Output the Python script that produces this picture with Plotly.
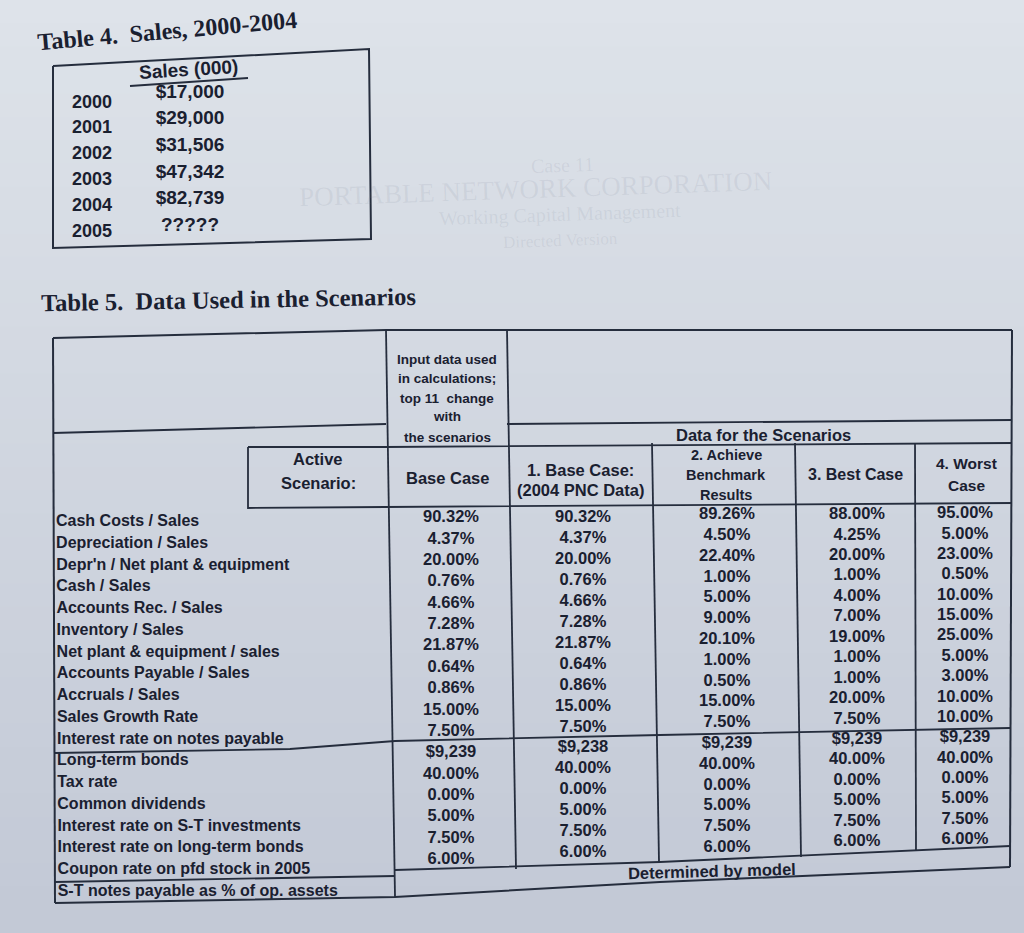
import plotly.graph_objects as go

# ---------------- data ----------------
t4_title = "Table 4.  Sales, 2000-2004"
t4_header = "Sales (000)"
t4_years = ["2000", "2001", "2002", "2003", "2004", "2005"]
t4_sales = ["$17,000", "$29,000", "$31,506", "$47,342", "$82,739", "?????"]

t5_title = "Table 5.  Data Used in the Scenarios"
input_note = ["Input data used", "in calculations;", "top 11  change", "with", "the scenarios"]
active_label = ["Active", "Scenario:"]
group_header = "Data for the Scenarios"
col_headers = [
    ["Base Case"],
    ["1. Base Case:", "(2004 PNC Data)"],
    ["2. Achieve", "Benchmark", "Results"],
    ["3. Best Case"],
    ["4. Worst", "Case"],
]
row_labels = [
    "Cash Costs / Sales",
    "Depreciation / Sales",
    "Depr'n / Net plant & equipment",
    "Cash / Sales",
    "Accounts Rec. / Sales",
    "Inventory / Sales",
    "Net plant & equipment / sales",
    "Accounts Payable / Sales",
    "Accruals / Sales",
    "Sales Growth Rate",
    "Interest rate on notes payable",
    "Long-term bonds",
    "Tax rate",
    "Common dividends",
    "Interest rate on S-T investments",
    "Interest rate on long-term bonds",
    "Coupon rate on pfd stock in 2005",
    "S-T notes payable as % of op. assets",
]
base_case = ["90.32%", "4.37%", "20.00%", "0.76%", "4.66%", "7.28%", "21.87%", "0.64%", "0.86%",
             "15.00%", "7.50%", "$9,239", "40.00%", "0.00%", "5.00%", "7.50%", "6.00%"]
scen1 = ["90.32%", "4.37%", "20.00%", "0.76%", "4.66%", "7.28%", "21.87%", "0.64%", "0.86%",
         "15.00%", "7.50%", "$9,238", "40.00%", "0.00%", "5.00%", "7.50%", "6.00%"]
scen2 = ["89.26%", "4.50%", "22.40%", "1.00%", "5.00%", "9.00%", "20.10%", "1.00%", "0.50%",
         "15.00%", "7.50%", "$9,239", "40.00%", "0.00%", "5.00%", "7.50%", "6.00%"]
scen3 = ["88.00%", "4.25%", "20.00%", "1.00%", "4.00%", "7.00%", "19.00%", "1.00%", "1.00%",
         "20.00%", "7.50%", "$9,239", "40.00%", "0.00%", "5.00%", "7.50%", "6.00%"]
scen4 = ["95.00%", "5.00%", "23.00%", "0.50%", "10.00%", "15.00%", "25.00%", "5.00%", "3.00%",
         "10.00%", "10.00%", "$9,239", "40.00%", "0.00%", "5.00%", "7.50%", "6.00%"]
footer_note = "Determined by model"
value_columns = [base_case, scen1, scen2, scen3, scen4]

# show-through heading from the next page (faint)
ghost_lines = ["Case 11", "PORTABLE NETWORK CORPORATION", "Working Capital Management", "Directed Version"]

# ---------------- layout geometry ----------------
W, H = 1024, 933
SANS = "Liberation Sans, Arial, sans-serif"
SERIF = "Liberation Serif, Times New Roman, serif"
INK = "#1a2030"
LINE = "#252d3d"
BG = "rgb(213,218,228)"

col_x = [451, 583, 727, 857, 965]
col_y0 = [518, 518, 515, 515, 514]
col_step = [21.38, 20.94, 20.81, 20.44, 20.38]
label_x, label_y0, label_step = 56, 522, 21.75

fig = go.Figure()

# background gradient (paper photo)
top = (222, 227, 234)
bot = (195, 201, 214)
shapes = []
nb = 40
for i in range(nb):
    t = i / (nb - 1)
    c = tuple(int(top[k] + (bot[k] - top[k]) * t) for k in range(3))
    shapes.append(dict(type="rect", xref="x", yref="y", x0=-5, x1=W + 5,
                       y0=i * H / nb, y1=(i + 1) * H / nb + 1,
                       fillcolor="rgb(%d,%d,%d)" % c, line=dict(width=0), layer="below"))


def seg(pts, w=1.8):
    d = "M " + " L ".join("%g,%g" % p for p in pts)
    shapes.append(dict(type="path", xref="x", yref="y", path=d,
                       line=dict(color=LINE, width=w)))


# Table 4 box
seg([(53, 66), (369, 49), (371, 239), (53, 248), (53, 66)], 2)
seg([(130, 86), (248, 78)], 2)  # underline of header

# Table 5 grid
seg([(53, 338), (386, 330), (1012, 330)], 2)          # top
seg([(53, 338), (55, 903)], 2)                        # left
seg([(55, 903), (395, 897), (660, 882), (1010, 867)], 2)  # bottom
seg([(1012, 330), (1010, 867)], 2)                    # right
seg([(53, 433), (386, 424)])                          # left section divider
seg([(386, 330), (395, 897)])                         # label | input
seg([(507, 330), (516, 869)])                         # input | scenario 1
seg([(507, 424), (1012, 420)])                        # above group header
seg([(248, 447), (386, 447), (1012, 443)])            # under group header
seg([(248, 447), (248, 508), (386, 507), (1012, 503)])  # active box + header bottom
seg([(652, 443), (659, 862)])
seg([(795, 443), (801, 857)])
seg([(915, 443), (916, 850)])
seg([(55, 753), (290, 749), (395, 741), (660, 735), (1010, 728)])  # after 11 rows
seg([(395, 870), (660, 862), (1010, 846)])            # bottom of values
seg([(55, 882), (395, 876)])                          # above last label

annotations = []


def ann(text, x, y, size, anchor="center", angle=0, family=SANS, color=INK, bold=True):
    t = "<b>%s</b>" % text if bold else text
    annotations.append(dict(text=t, x=x, y=y, xref="x", yref="y",
                            xanchor=anchor, yanchor="middle", showarrow=False,
                            textangle=angle, font=dict(family=family, size=size, color=color)))


ghost = "rgba(125,133,150,0.13)"
for txt, (gx, gy, gs) in zip(ghost_lines, [(562, 165, 20), (535, 189, 27), (560, 214, 20), (560, 240, 17)]):
    ann(txt, gx, gy, gs, family=SERIF, color=ghost, angle=-2, bold=False)

# titles
ann(t4_title, 167, 31, 24, angle=-5, family=SERIF)
ann(t5_title, 228, 299, 24.5, angle=-1, family=SERIF)

# Table 4
ann(t4_header, 188, 69, 19, angle=-3.5)
fig.add_trace(go.Scatter(
    x=[92] * len(t4_years), y=[103 + i * 25.8 for i in range(len(t4_years))],
    text=["<b>%s</b>" % s for s in t4_years], mode="text", textposition="middle center",
    textfont=dict(family=SANS, size=18, color=INK), hoverinfo="skip", showlegend=False))
fig.add_trace(go.Scatter(
    x=[190] * len(t4_sales), y=[93 + i * 26.6 for i in range(len(t4_sales))],
    text=["<b>%s</b>" % s for s in t4_sales], mode="text", textposition="middle center",
    textfont=dict(family=SANS, size=19, color=INK), hoverinfo="skip", showlegend=False))

# Table 5 headers
for txt, yy in zip(input_note, [359, 378, 398, 416, 437]):
    ann(txt, 447, yy, 13.5)
ann(active_label[0], 318, 459, 16.5)
ann(active_label[1], 318, 483, 16.5)
ann(group_header, 763, 435, 16.5)
head_pos = [[(447, 478)], [(580, 470), (580, 490)], [(726, 455), (726, 475), (726, 495)],
            [(855, 474)], [(966, 463), (966, 485)]]
head_size = [16.5, 16.5, 14.5, 16, 15.5]
for lines, pos, sz in zip(col_headers, head_pos, head_size):
    for txt, (xx, yy) in zip(lines, pos):
        ann(txt, xx, yy, sz)

# row labels
n = len(row_labels)
fig.add_trace(go.Scatter(
    x=[label_x + 0.1 * i for i in range(n)], y=[label_y0 + i * label_step for i in range(n)],
    text=["<b>%s</b>" % s for s in row_labels], mode="text", textposition="middle right",
    textfont=dict(family=SANS, size=16, color=INK), hoverinfo="skip", showlegend=False))

# value columns
for vals, cx, y0, st in zip(value_columns, col_x, col_y0, col_step):
    fig.add_trace(go.Scatter(
        x=[cx] * len(vals), y=[y0 + i * st for i in range(len(vals))],
        text=["<b>%s</b>" % s for s in vals], mode="text", textposition="middle center",
        textfont=dict(family=SANS, size=16.5, color=INK), hoverinfo="skip", showlegend=False))

ann(footer_note, 712, 871, 16.5, angle=-1.5)

fig.update_layout(
    width=W, height=H, margin=dict(l=0, r=0, t=0, b=0),
    paper_bgcolor=BG, plot_bgcolor=BG,
    xaxis=dict(range=[0, W], visible=False, fixedrange=True),
    yaxis=dict(range=[H, 0], visible=False, fixedrange=True),
    shapes=shapes, annotations=annotations, showlegend=False,
)
fig.write_html(
    "out.html",
    config={"displayModeBar": False, "staticPlot": True},
    post_script="document.body.style.margin='0px';document.body.style.background='%s';" % BG,
)
